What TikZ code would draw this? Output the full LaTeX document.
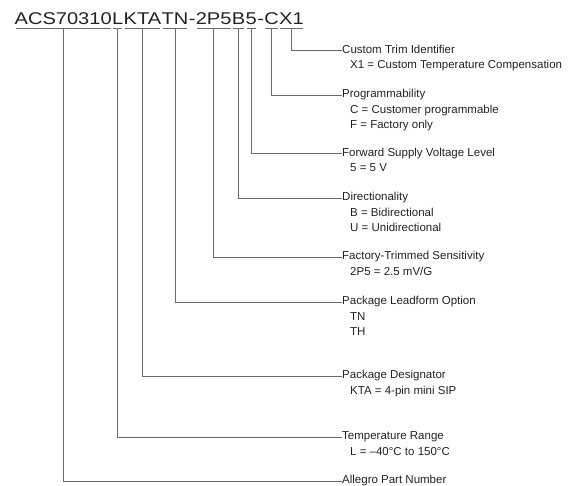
\documentclass[tikz,border=0pt]{standalone}
\usepackage{fontspec}
\setmainfont{Liberation Sans}
\newfontfamily\partfont[FakeStretch=1.18]{Liberation Sans}
\usetikzlibrary{positioning}
\definecolor{leadGray}{HTML}{6B6B6B}
\definecolor{partInk}{HTML}{222222}

\begin{document}
\begin{tikzpicture}[x=1pt, y=-1pt,
    part/.style={inner sep=0pt, text height=12.5pt, text depth=4pt, text=partInk,
      font=\partfont\fontsize{17}{20}\selectfont},
    head/.style={inner sep=0pt, anchor=west, text height=8.2pt, text depth=2.4pt, text=partInk,
      font=\fontsize{11.5}{15}\selectfont},
    detail/.style={inner sep=0pt, anchor=north west, align=left, text=partInk,
      font=\fontsize{11.5}{15}\selectfont},
    lead/.style={draw=leadGray, line width=0.9pt},
    uline/.style={draw=leadGray, line width=0.9pt, shorten <=1.2pt, shorten >=1.2pt}]
  \useasboundingbox (0,0) rectangle (584,485);

  % part number, one node per field
  \node[part, anchor=base west] (acs) at (14.5,24) {ACS70310};
  \node[part, right=0pt of acs] (temp) {L};
  \node[part, right=0pt of temp] (pkg) {KTA};
  \node[part, right=0pt of pkg] (lead) {TN};
  \node[part, right=0pt of lead] (dashA) {-};
  \node[part, right=0pt of dashA] (sens) {2P5};
  \node[part, right=0pt of sens] (dir) {B};
  \node[part, right=0pt of dir] (volt) {5};
  \node[part, right=0pt of volt] (dashB) {-};
  \node[part, right=0pt of dashB] (prog) {C};
  \node[part, right=0pt of prog] (trim) {X1};

  % underlines
  \draw[uline] (acs.south west) -- (acs.south east);
  \draw[uline] (temp.south west) -- (temp.south east);
  \draw[uline] (pkg.south west) -- (pkg.south east);
  \draw[uline] (lead.south west) -- (lead.south east);
  \draw[uline] (sens.south west) -- (sens.south east);
  \draw[uline] (dir.south west) -- (dir.south east);
  \draw[uline] (volt.south west) -- (volt.south east);
  \draw[uline] (prog.south west) -- (prog.south east);
  \draw[uline] (trim.south west) -- (trim.south east);

  % field descriptions
  \node[head] (trimHead) at (342,50.5) {Custom Trim Identifier};
  \node[detail] (trimInfo) at ([xshift=8pt,yshift=-4.4pt]trimHead.south west)
    {X1 = Custom Temperature Compensation};

  \node[head] (progHead) at (342,95) {Programmability};
  \node[detail] (progInfo) at ([xshift=8pt,yshift=-4.4pt]progHead.south west)
    {C = Customer programmable\\F = Factory only};

  \node[head] (voltHead) at (342,153.5) {Forward Supply Voltage Level};
  \node[detail] (voltInfo) at ([xshift=8pt,yshift=-4.4pt]voltHead.south west)
    {5 = 5 V};

  \node[head] (dirHead) at (342,198) {Directionality};
  \node[detail] (dirInfo) at ([xshift=8pt,yshift=-4.4pt]dirHead.south west)
    {B = Bidirectional\\U = Unidirectional};

  \node[head] (sensHead) at (342,257) {Factory-Trimmed Sensitivity};
  \node[detail] (sensInfo) at ([xshift=8pt,yshift=-4.4pt]sensHead.south west)
    {2P5 = 2.5 mV/G};

  \node[head] (leadHead) at (342,302) {Package Leadform Option};
  \node[detail] (leadInfo) at ([xshift=8pt,yshift=-4.4pt]leadHead.south west)
    {TN\\TH};

  \node[head] (pkgHead) at (342,376) {Package Designator};
  \node[detail] (pkgInfo) at ([xshift=8pt,yshift=-4.4pt]pkgHead.south west)
    {KTA = 4-pin mini SIP};

  \node[head] (tempHead) at (342,437) {Temperature Range};
  \node[detail] (tempInfo) at ([xshift=8pt,yshift=-4.4pt]tempHead.south west)
    {L = --40°C to 150°C};

  \node[head] (acsHead) at (342,481) {Allegro Part Number};

  % leaders
  \draw[lead] (trim.south) |- (trimHead.west);
  \draw[lead] (prog.south) |- (progHead.west);
  \draw[lead] (volt.south) |- (voltHead.west);
  \draw[lead] (dir.south) |- (dirHead.west);
  \draw[lead] (sens.south) |- (sensHead.west);
  \draw[lead] (lead.south) |- (leadHead.west);
  \draw[lead] (pkg.south) |- (pkgHead.west);
  \draw[lead] (temp.south) |- (tempHead.west);
  \draw[lead] (acs.south) |- (acsHead.west);
\end{tikzpicture}
\end{document}
